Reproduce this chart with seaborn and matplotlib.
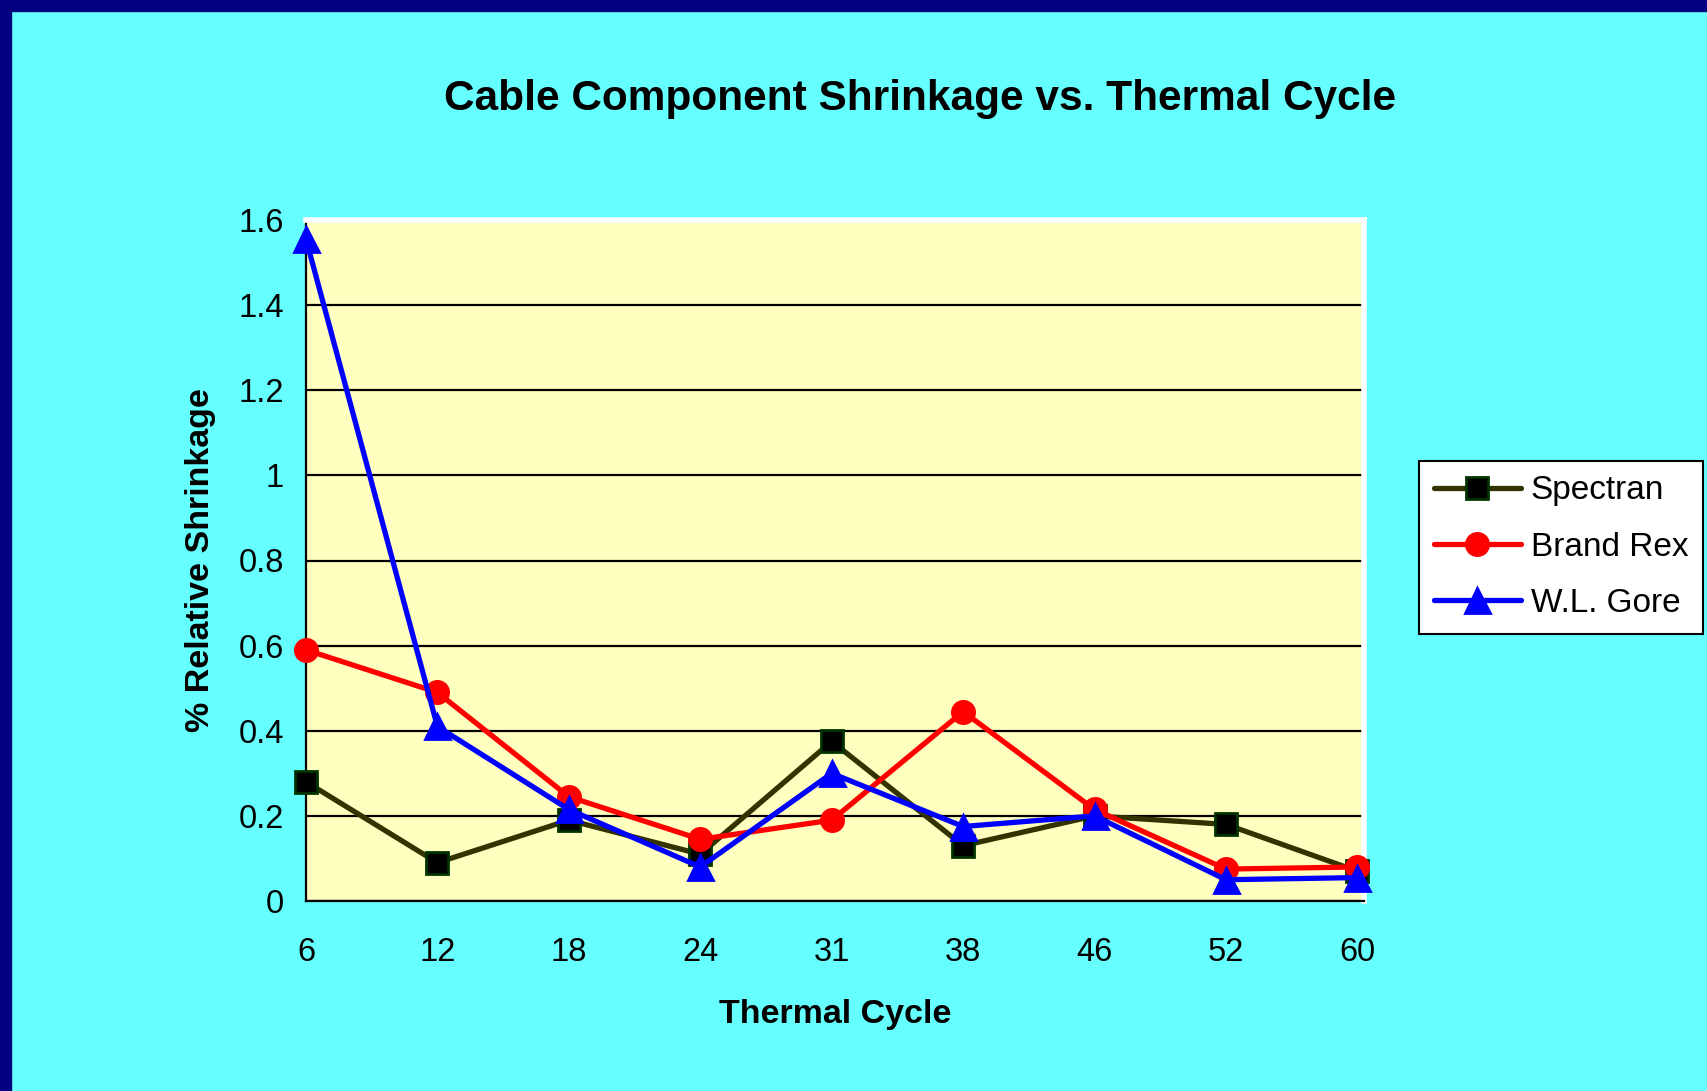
import numpy as np
import pandas as pd
import matplotlib
matplotlib.use("Agg")
import matplotlib.pyplot as plt
import seaborn as sns

# Thermal cycle categories and shrinkage (%) per cable
cycles = ["6", "12", "18", "24", "31", "38", "46", "52", "60"]
spectran = [0.28, 0.09, 0.19, 0.11, 0.375, 0.13, 0.20, 0.18, 0.07]
brand_rex = [0.59, 0.49, 0.245, 0.145, 0.19, 0.445, 0.215, 0.075, 0.08]
wl_gore = [1.555, 0.41, 0.215, 0.08, 0.30, 0.175, 0.20, 0.05, 0.055]
y_ticks = [0, 0.2, 0.4, 0.6, 0.8, 1, 1.2, 1.4, 1.6]
y_tick_labels = ["0", "0.2", "0.4", "0.6", "0.8", "1", "1.2", "1.4", "1.6"]

sns.set_style("white")
plt.rcParams["font.family"] = ["Liberation Sans", "DejaVu Sans"]
plt.rcParams["text.color"] = "black"
plt.rcParams["axes.labelcolor"] = "black"

fig = plt.figure(figsize=(17.07, 10.91), dpi=100, facecolor="#66FFFF")
# navy frame on the top and left edges
fig.patches.append(plt.Rectangle((0, 1 - 11 / 1091), 1, 11 / 1091, transform=fig.transFigure,
                                 color="#000080", zorder=0))
fig.patches.append(plt.Rectangle((0, 0), 11 / 1707, 1, transform=fig.transFigure,
                                 color="#000080", zorder=0))

ax = fig.add_axes([306 / 1707, 1 - 901 / 1091, (1364 - 306) / 1707, (901 - 220) / 1091])
ax.set_facecolor("#FFFFC0")

pos = np.arange(len(cycles))
series = [
    ("Spectran", spectran, "#333300", "s", "black", "#003300", 15.5),
    ("Brand Rex", brand_rex, "#FF0000", "o", "#FF0000", "#FF0000", 16),
    ("W.L. Gore", wl_gore, "#0000FF", "^", "#0000FF", "#0000FF", 18),
]
for name, vals, col, mk, mfc, mec, ms in series:
    sns.lineplot(x=pos, y=vals, ax=ax, color=col, marker=mk, label=name,
                 legend=False, zorder=3)
    ln = ax.lines[-1]
    ln.set_linewidth(3.8)
    ln.set_markersize(ms)
    ln.set_markerfacecolor(mfc)
    ln.set_markeredgecolor(mec)
    ln.set_markeredgewidth(2)
    ln.set_clip_on(False)

ax.set_xlim(0, 8.05)
ax.set_ylim(0, 1.6)
ax.set_xticks(pos)
ax.set_xticklabels(cycles)
ax.set_yticks(y_ticks)
ax.set_yticklabels(y_tick_labels)
ax.yaxis.grid(True, color="black", linewidth=1.6)
ax.set_axisbelow(True)
ax.tick_params(axis="both", labelsize=23.5, colors="black", direction="inout",
               length=16, width=1.5)
ax.tick_params(axis="x", pad=18)
ax.tick_params(axis="y", pad=8)
for s in ["left", "bottom"]:
    ax.spines[s].set_color("black")
    ax.spines[s].set_linewidth(1.6)
for s in ["top", "right"]:
    ax.spines[s].set_color("white")
    ax.spines[s].set_linewidth(4)

ax.set_xlabel("Thermal Cycle", fontsize=24.5, fontweight="bold", labelpad=22)
ax.set_ylabel("% Relative Shrinkage", fontsize=24.5, fontweight="bold", labelpad=16)

fig.text(0.539, 0.909, "Cable Component Shrinkage vs. Thermal Cycle", fontsize=30.5,
         fontweight="bold", ha="center", va="center")

handles, labels = ax.get_legend_handles_labels()
leg = fig.legend(handles, labels, loc="center left", bbox_to_anchor=(1419 / 1707, 1 - 547 / 1091),
                 fontsize=24, frameon=True, fancybox=False, edgecolor="black",
                 facecolor="white", framealpha=1, handlelength=2.6, borderpad=0.45,
                 labelspacing=0.75, handletextpad=0.3, borderaxespad=0)
leg.get_frame().set_linewidth(1.5)

fig.savefig("out.png", dpi=100, facecolor=fig.get_facecolor())
